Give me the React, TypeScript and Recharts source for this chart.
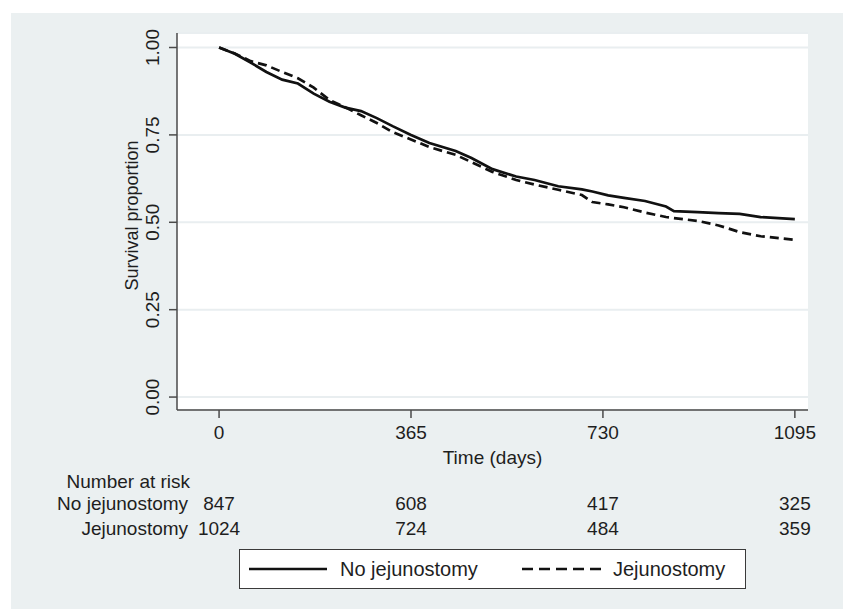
import React from 'react';
import { LineChart, Line, XAxis, YAxis, CartesianGrid, Legend } from 'recharts';

const FONT = "'Liberation Sans', Arial, Helvetica, sans-serif";

const days = [0, 30, 60, 90, 120, 150, 180, 210, 240, 270, 300, 330, 365, 400, 450, 480, 520, 565, 600, 645, 690, 710, 740, 770, 810, 850, 865, 910, 950, 990, 1030, 1095];
const noJejunostomy = [1.0, 0.982, 0.957, 0.93, 0.908, 0.897, 0.868, 0.845, 0.828, 0.818, 0.798, 0.775, 0.75, 0.727, 0.704, 0.684, 0.652, 0.631, 0.621, 0.603, 0.594, 0.588, 0.577, 0.57, 0.561, 0.545, 0.532, 0.529, 0.526, 0.524, 0.515, 0.509];
const jejunostomy = [1.0, 0.983, 0.961, 0.949, 0.93, 0.912, 0.885, 0.85, 0.829, 0.806, 0.784, 0.758, 0.737, 0.715, 0.693, 0.672, 0.644, 0.621, 0.608, 0.593, 0.578, 0.558, 0.551, 0.543, 0.528, 0.515, 0.512, 0.504, 0.491, 0.472, 0.46, 0.45];

const xTicks = [0, 365, 730, 1095];
const yTicks = [0, 0.25, 0.5, 0.75, 1];
const riskNoJejunostomy = [847, 608, 417, 325];
const riskJejunostomy = [1024, 724, 484, 359];
const seriesNames = ['No jejunostomy', 'Jejunostomy'];

const data = days.map((d, i) => ({ day: d, noJej: noJejunostomy[i], jej: jejunostomy[i] }));

const TXT = '#1e1e1e';
const AXIS = '#4a4a4a';

const XTick = (props: any) => {
  const { x, y, payload } = props;
  return (
    <text x={x} y={y + 12} textAnchor="middle" dominantBaseline="central" fontSize={19} fill={TXT} fontFamily={FONT}>
      {payload.value}
    </text>
  );
};

const YTick = (props: any) => {
  const { x, y, payload } = props;
  const cx = x - 14;
  return (
    <text x={cx} y={y} transform={`rotate(-90, ${cx}, ${y})`} textAnchor="middle" dominantBaseline="central" fontSize={19} fill={TXT} fontFamily={FONT}>
      {Number(payload.value).toFixed(2)}
    </text>
  );
};

const makeRiskTick = (values: number[], label: string, header: boolean) => (props: any) => {
  const { x, y, payload } = props;
  const idx = xTicks.indexOf(payload.value);
  const ty = y + 23;
  return (
    <g fontFamily={FONT} fontSize={19} fill={TXT}>
      {idx === 0 && header && (
        <text x={x - 29} y={ty - 22} textAnchor="end" dominantBaseline="central">Number at risk</text>
      )}
      {idx === 0 && (
        <text x={x - 31} y={ty} textAnchor="end" dominantBaseline="central">{label}</text>
      )}
      <text x={x} y={ty} textAnchor="middle" dominantBaseline="central">{values[idx]}</text>
    </g>
  );
};

const LegendBox = () => (
  <div style={{ width: 507, height: 40, boxSizing: 'border-box', border: '1.5px solid #3a3a3a', background: '#fff', position: 'relative' }}>
    <svg width={504} height={37} style={{ position: 'absolute', left: 0, top: 0 }}>
      <line x1={9} x2={87} y1={19} y2={19} stroke="#111" strokeWidth={2.7} />
      <text x={100} y={19} dominantBaseline="central" fontSize={20} fontFamily={FONT} fill={TXT}>{seriesNames[0]}</text>
      <line x1={282} x2={362} y1={19} y2={19} stroke="#111" strokeWidth={2.7} strokeDasharray="11 6" />
      <text x={373} y={19} dominantBaseline="central" fontSize={20} fontFamily={FONT} fill={TXT}>{seriesNames[1]}</text>
    </svg>
  </div>
);

export default function App() {
  return (
    <div style={{ position: 'absolute', left: 0, top: 0, width: 843, height: 609, background: '#fff', overflow: 'hidden' }}>
      <div style={{ position: 'absolute', left: 11, top: 13, width: 832, height: 596, background: '#ebf0f1' }} />
      <div style={{ position: 'absolute', left: 0, top: 0 }}>
        <LineChart width={843} height={609} data={data} margin={{ top: 33, right: 35, left: 117, bottom: 79 }}>
          <CartesianGrid vertical={false} horizontal={true} fill="#ffffff" stroke="#e9eef0" strokeWidth={2} />
          <XAxis
            dataKey="day"
            type="number"
            domain={[-80, 1120]}
            ticks={xTicks}
            interval={0}
            height={70}
            tickSize={8}
            tickMargin={2}
            axisLine={{ stroke: AXIS, strokeWidth: 1.5 }}
            tickLine={{ stroke: AXIS, strokeWidth: 1.5 }}
            tick={<XTick />}
            label={{
              content: (p: any) => {
                const vb = p.viewBox || {};
                return (
                  <text x={vb.x + vb.width / 2} y={vb.y + 47} textAnchor="middle" dominantBaseline="central" fontSize={19} fill={TXT} fontFamily={FONT}>
                    Time (days)
                  </text>
                );
              },
            }}
          />
          <XAxis
            xAxisId="r1"
            dataKey="day"
            type="number"
            domain={[-80, 1120]}
            ticks={xTicks}
            interval={0}
            height={25}
            tickSize={0}
            tickMargin={0}
            axisLine={false}
            tickLine={false}
            tick={makeRiskTick(riskNoJejunostomy, seriesNames[0], true)}
          />
          <XAxis
            xAxisId="r2"
            dataKey="day"
            type="number"
            domain={[-80, 1120]}
            ticks={xTicks}
            interval={0}
            height={25}
            tickSize={0}
            tickMargin={0}
            axisLine={false}
            tickLine={false}
            tick={makeRiskTick(riskJejunostomy, seriesNames[1], false)}
          />
          <YAxis
            type="number"
            domain={[-0.037, 1.0415]}
            allowDataOverflow
            ticks={yTicks}
            interval={0}
            width={60}
            tickSize={8}
            tickMargin={2}
            axisLine={{ stroke: AXIS, strokeWidth: 1.5 }}
            tickLine={{ stroke: AXIS, strokeWidth: 1.5 }}
            tick={<YTick />}
            label={{
              content: (p: any) => {
                const vb = p.viewBox || {};
                const cx = vb.x + vb.width - 45;
                const cy = vb.y + vb.height / 2 - 6;
                return (
                  <text x={cx} y={cy} transform={`rotate(-90, ${cx}, ${cy})`} textAnchor="middle" dominantBaseline="central" fontSize={18} fill={TXT} fontFamily={FONT}>
                    Survival proportion
                  </text>
                );
              },
            }}
          />
          <Legend
            layout="horizontal"
            verticalAlign="middle"
            align="center"
            content={<LegendBox />}
            wrapperStyle={{ position: 'absolute', left: 239, top: 549, width: 507, height: 40, margin: 0, padding: 0 }}
          />
          <Line type="linear" dataKey="noJej" name={seriesNames[0]} stroke="#111" strokeWidth={2.7} dot={false} isAnimationActive={false} />
          <Line type="linear" dataKey="jej" name={seriesNames[1]} stroke="#111" strokeWidth={2.7} strokeDasharray="9 5" dot={false} isAnimationActive={false} />
        </LineChart>
      </div>
    </div>
  );
}
